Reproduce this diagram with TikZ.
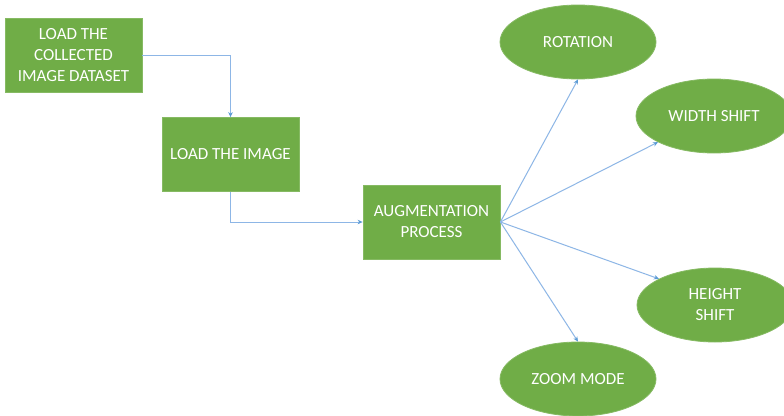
\documentclass[tikz,border=0pt]{standalone}
\usepackage{fontspec}
\setmainfont{Carlito}
\usetikzlibrary{shapes.geometric,arrows.meta}
\definecolor{boxgreen}{HTML}{70AD47}
\definecolor{boxedge}{HTML}{86BA63}
\definecolor{linkblue}{HTML}{8DB6E6}
\definecolor{tipblue}{HTML}{5B9BD5}
\tikzset{
  labeltext/.style={text=white, font=\fontsize{17}{21}\selectfont},
  stepbox/.style={draw=boxedge, line width=0.8pt, fill=boxgreen, labeltext,
    minimum width=137pt, minimum height=74pt, inner sep=0pt, align=center},
  leaf/.style={ellipse, draw=boxedge, line width=0.8pt, fill=boxgreen, labeltext,
    minimum width=156pt, minimum height=74pt, inner sep=0pt, align=center},
  link/.style={draw=linkblue, line width=1pt,
    -{Stealth[length=5pt,width=4.5pt,color=tipblue,fill=tipblue]}}
}
\begin{document}
\begin{tikzpicture}[x=1pt,y=-1pt]
  \useasboundingbox (0,0) rectangle (784,415);
  \fill[white] (0,0) rectangle (784,415);
  % processing steps
  \node[stepbox] (dataset) at (73.5,55) {LOAD THE\\COLLECTED\\IMAGE DATASET};
  \node[stepbox] (image) at (230.5,154.5) {LOAD THE IMAGE};
  \node[stepbox] (augment) at (431.5,222) {AUGMENTATION\\PROCESS};
  % augmentation types
  \begin{scope}
    \clip (0,0) rectangle (784,415);
    \node[leaf] (rotation) at (578,42) {ROTATION};
    \node[leaf] (width) at (714,116) {WIDTH SHIFT};
    \node[leaf] (height) at (715,305) {HEIGHT\\SHIFT};
    \node[leaf] (zoom) at (578,379) {ZOOM MODE};
  \end{scope}
  % connectors
  \draw[link] (dataset.east) -| (image.north);
  \draw[link] (image.south) |- (augment.west);
  \draw[link] (augment.east) -- (rotation.south);
  \draw[link] (augment.east) -- (width.205);
  \draw[link] (augment.east) -- (height.155);
  \draw[link] (augment.east) -- (zoom.north);
\end{tikzpicture}
\end{document}
